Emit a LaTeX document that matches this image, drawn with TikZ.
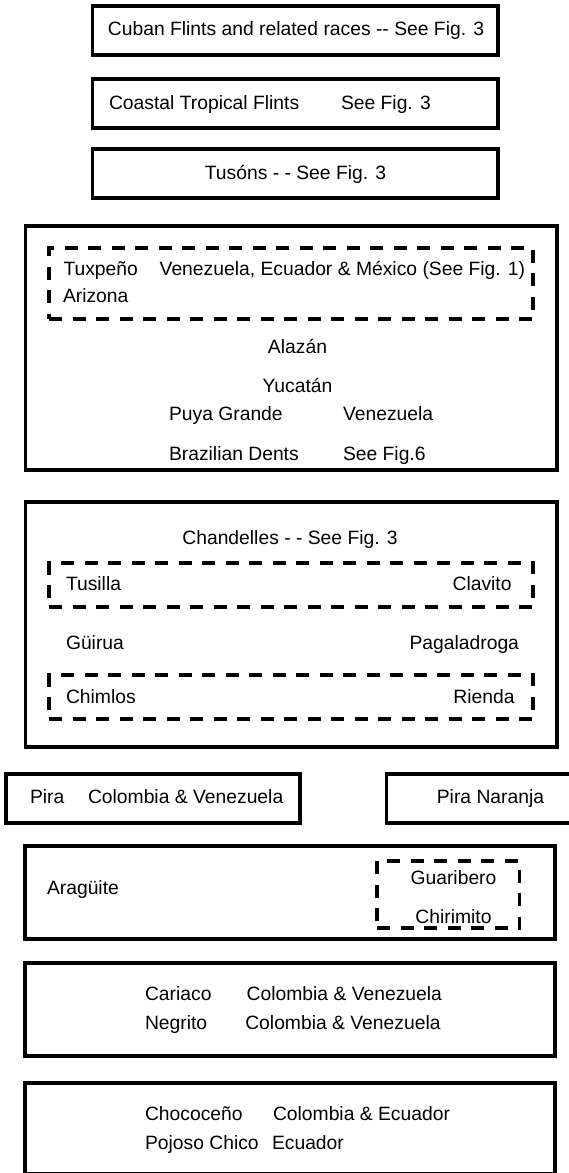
\documentclass[tikz,border=0pt]{standalone}
\usepackage{fontspec}
\setmainfont{Liberation Sans}
\begin{document}
\begin{tikzpicture}[x=1pt,y=-1pt,
  box/.style={draw=black, line width=3.3pt, inner sep=0pt, outer sep=0pt},
  dbox/.style={draw=black, line width=3.3pt, dash pattern=on 13pt off 10.5pt, inner sep=0pt, outer sep=0pt},
  txt/.style={inner sep=0pt, outer sep=0pt, font=\fontsize{19.3}{23}\selectfont}]
\useasboundingbox (0,0) rectangle (569,1173);
% solid boxes
\node[box, minimum width=405.5pt, minimum height=49pt] (b1) at (295.25,30.5) {};
\node[box, minimum width=405.5pt, minimum height=49pt] (b2) at (295.25,103.5) {};
\node[box, minimum width=405.5pt, minimum height=49pt] (b3) at (295.25,173.5) {};
\node[box, minimum width=531.6pt, minimum height=244pt] (b4) at (291.2,348) {};
\node[box, minimum width=531.6pt, minimum height=245pt] (b5) at (291.2,624.5) {};
\node[box, minimum width=294pt, minimum height=49pt] (b6) at (153,798.5) {};
\node[box, minimum width=188.6pt, minimum height=49pt] (b7) at (480.7,798.5) {};
\node[box, minimum width=530pt, minimum height=93pt] (b8) at (290,892.5) {};
\node[box, minimum width=530pt, minimum height=93pt] (b9) at (290,1009.5) {};
\node[box, minimum width=530pt, minimum height=91pt] (b10) at (290,1128.5) {};
% dashed boxes
\node[dbox, minimum width=484pt, minimum height=71pt] (d1) at (291,283.5) {};
\node[dbox, minimum width=484pt, minimum height=44pt] (d2) at (291,585) {};
\node[dbox, minimum width=484pt, minimum height=44pt] (d3) at (291,697) {};
\node[dbox, minimum width=142.6pt, minimum height=67pt] (d4) at (448.3,894.5) {};
% texts
\node[txt, anchor=base] (t1) at (296,35) {Cuban Flints and related races -{}- See Fig. 3};
\node[txt, anchor=base west] (t2a) at (109,109) {Coastal Tropical Flints};
\node[txt, anchor=base west] (t2b) at (341,109) {See Fig. 3};
\node[txt, anchor=base] (t3) at (295.5,179) {Tusóns - - See Fig. 3};
\node[txt, anchor=base west] (t4a) at (63.5,275) {Tuxpeño};
\node[txt, anchor=base west] (t4b) at (159.7,275) {Venezuela, Ecuador \& México (See Fig. 1)};
\node[txt, anchor=base west] (t4c) at (63,302) {Arizona};
\node[txt, anchor=base] (t4d) at (297.5,353) {Alazán};
\node[txt, anchor=base] (t4e) at (297.5,392) {Yucatán};
\node[txt, anchor=base west] (t4f) at (169,420) {Puya Grande};
\node[txt, anchor=base west] (t4g) at (343,420) {Venezuela};
\node[txt, anchor=base west] (t4h) at (169,460) {Brazilian Dents};
\node[txt, anchor=base west] (t4i) at (343,460) {See Fig.6};
\node[txt, anchor=base] (t5a) at (290,544) {Chandelles - - See Fig. 3};
\node[txt, anchor=base west] (t5b) at (66,590) {Tusilla};
\node[txt, anchor=base east] (t5c) at (511.6,590) {Clavito};
\node[txt, anchor=base west] (t5d) at (66,649) {Güirua};
\node[txt, anchor=base east] (t5e) at (519,649) {Pagaladroga};
\node[txt, anchor=base west] (t5f) at (66,703) {Chimlos};
\node[txt, anchor=base east] (t5g) at (514.5,703) {Rienda};
\node[txt, anchor=base west] (t6a) at (30,803) {Pira};
\node[txt, anchor=base west] (t6b) at (88,803) {Colombia \& Venezuela};
\node[txt, anchor=base] (t7) at (490.5,803) {Pira Naranja};
\node[txt, anchor=base west] (t8a) at (47,894) {Aragüite};
\node[txt, anchor=base] (t8b) at (453.5,884) {Guaribero};
\node[txt, anchor=base] (t8c) at (453.5,923) {Chirimito};
\node[txt, anchor=base west] (t9a) at (145,1000) {Cariaco};
\node[txt, anchor=base west] (t9b) at (246.7,1000) {Colombia \& Venezuela};
\node[txt, anchor=base west] (t9c) at (145,1029) {Negrito};
\node[txt, anchor=base west] (t9d) at (245.3,1029) {Colombia \& Venezuela};
\node[txt, anchor=base west] (t10a) at (145,1120) {Chococeño};
\node[txt, anchor=base west] (t10b) at (273,1120) {Colombia \& Ecuador};
\node[txt, anchor=base west] (t10c) at (145,1149) {Pojoso Chico};
\node[txt, anchor=base west] (t10d) at (272,1149) {Ecuador};
\end{tikzpicture}
\end{document}
